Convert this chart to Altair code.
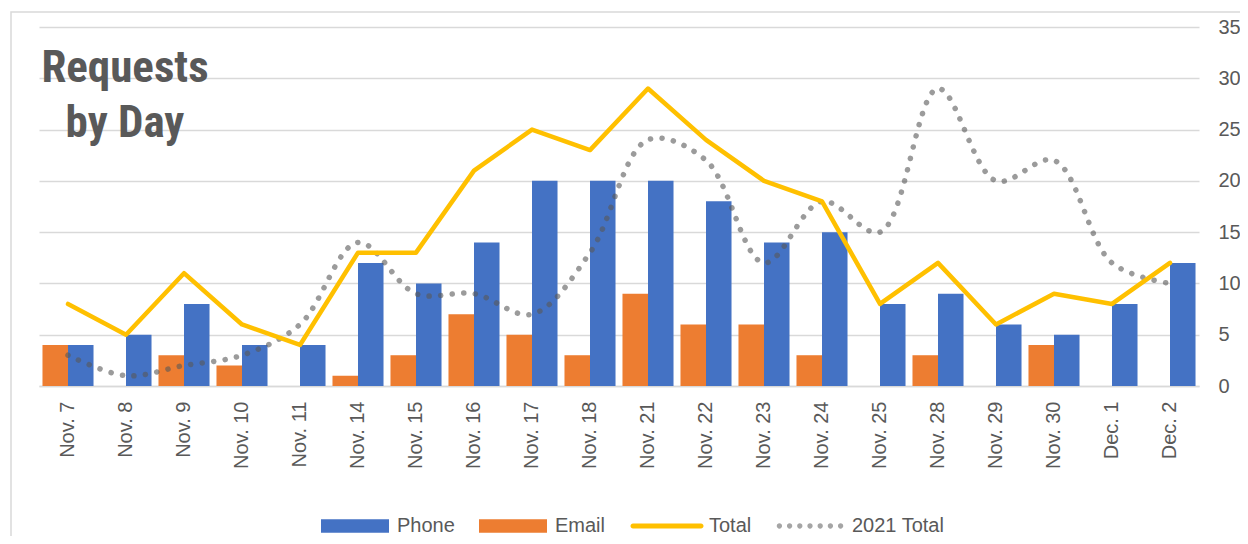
import altair as alt
import pandas as pd

days = ["Nov. 7", "Nov. 8", "Nov. 9", "Nov. 10", "Nov. 11", "Nov. 14", "Nov. 15",
        "Nov. 16", "Nov. 17", "Nov. 18", "Nov. 21", "Nov. 22", "Nov. 23", "Nov. 24",
        "Nov. 25", "Nov. 28", "Nov. 29", "Nov. 30", "Dec. 1", "Dec. 2"]
phone = [4, 5, 8, 4, 4, 12, 10, 14, 20, 20, 20, 18, 14, 15, 8, 9, 6, 5, 8, 12]
email = [4, 0, 3, 2, 0, 1, 3, 7, 5, 3, 9, 6, 6, 3, 0, 3, 0, 4, 0, 0]
total = [8, 5, 11, 6, 4, 13, 13, 21, 25, 23, 29, 24, 20, 18, 8, 12, 6, 9, 8, 12]
total_2021 = [3, 1, 2, 3, 6, 14, 9, 9, 7, 13, 24, 22, 12, 18, 15, 29, 20, 22, 12, 10]

series_names = ["Phone", "Email", "Total", "2021 Total"]
PHONE_C, EMAIL_C, TOTAL_C, PREV_C = "#4472C4", "#ED7D31", "#FFC000", "#595959"
PREV_LEGEND_C = "#A5A5A5"
title_lines = ["Requests", "by Day"]

TXT = "#595959"
GRID = "#D9D9D9"
BODY_FONT = "'Liberation Sans', Arial, sans-serif"
TITLE_FONT = "'Liberation Sans Narrow', 'Roboto Condensed', 'DejaVu Sans Condensed', 'Arial Narrow', sans-serif"

bars_df = pd.DataFrame({
    "day": days * 2,
    "series": ["Phone"] * len(days) + ["Email"] * len(days),
    "value": phone + email,
})
total_df = pd.DataFrame({"day": days, "series": "Total", "value": total})
prev_df = pd.DataFrame({"day": days, "series": "2021 Total", "value": total_2021})
title_df = pd.DataFrame({"t": [title_lines]})
frame_df = pd.DataFrame({"a": [0]})
legend_df = pd.DataFrame({"series": series_names})

# legend symbol shapes (filled only) in Vega's unit box (-1..1 = symbol width)
RECT = "M-1,-0.2H1V0.2H-1Z"
_h = 0.074
LINE = f"M-1,{-_h}H1A{_h},{_h} 0 0,1 1,{_h}H-1A{_h},{_h} 0 0,1 -1,{-_h}Z"
_r = 0.078
DOTS = "".join(
    f"M{c - _r:.3f},0a{_r},{_r} 0 1,0 {2 * _r:.3f},0a{_r},{_r} 0 1,0 {-2 * _r:.3f},0"
    for c in [-0.9, -0.6, -0.3, 0.0, 0.3, 0.6, 0.9]
)

legend = alt.Legend(
    title=None,
    orient="none",
    legendX=282,
    legendY=465,
    direction="horizontal",
    padding=0,
    symbolSize=4624,
    symbolStrokeWidth=0,
    symbolOpacity=1,
    labelOffset=8,
    columnPadding=24,
    labelFont=BODY_FONT,
    labelFontSize=20,
    labelColor=TXT,
)
# legend-only layer: symbols of size 0, so nothing is drawn in the plot itself
legend_layer = alt.Chart(legend_df).mark_point(filled=True, size=0, strokeWidth=0).encode(
    fill=alt.Fill("series:N", scale=alt.Scale(domain=series_names,
                  range=[PHONE_C, EMAIL_C, TOTAL_C, PREV_LEGEND_C]), legend=legend),
    shape=alt.Shape("series:N", scale=alt.Scale(domain=series_names,
                    range=[RECT, RECT, LINE, DOTS]), legend=legend),
)

x_enc = alt.X(
    "day:N", sort=days, title=None,
    scale=alt.Scale(paddingInner=0.12, paddingOuter=0.06),
    axis=alt.Axis(labelAngle=-90, labelFont=BODY_FONT, labelFontSize=20, labelColor=TXT,
                  labelPadding=15, ticks=False, tickSize=0, domainColor=GRID, domainWidth=1.5,
                  grid=False),
)
y_enc = alt.Y(
    "value:Q", title=None,
    scale=alt.Scale(domain=[0, 35], nice=False),
    axis=alt.Axis(orient="right", values=list(range(0, 36, 5)), labelFont=BODY_FONT,
                  labelFontSize=20, labelColor=TXT, labelPadding=19, ticks=False, tickSize=0,
                  domain=False, gridColor=GRID, gridWidth=1.5),
)

frame = alt.Chart(frame_df).mark_rect(filled=False, stroke=GRID, strokeWidth=1.5).encode(
    x=alt.value(-28), x2=alt.value(1400), y=alt.value(-15), y2=alt.value(700)
)

bars = alt.Chart(bars_df).mark_bar().encode(
    x=x_enc,
    xOffset=alt.XOffset("series:N", sort=["Email", "Phone"],
                        scale=alt.Scale(paddingInner=0, paddingOuter=0)),
    y=y_enc,
    color=alt.Color("series:N", scale=alt.Scale(domain=["Email", "Phone"],
                    range=[EMAIL_C, PHONE_C]), legend=None),
)

prev_line = alt.Chart(prev_df).mark_line(
    interpolate="catmull-rom", strokeWidth=5.5, strokeDash=[0.1, 11.5], strokeCap="round",
    opacity=0.6, color=PREV_C,
).encode(x=x_enc, y=y_enc)

total_line = alt.Chart(total_df).mark_line(
    strokeWidth=4.5, strokeCap="round", strokeJoin="round", color=TOTAL_C,
).encode(x=x_enc, y=y_enc)

title_text = alt.Chart(title_df).mark_text(
    align="center", baseline="alphabetic", font=TITLE_FONT, fontSize=45,
    fontWeight="bold", color=TXT, lineHeight=55,
).encode(x=alt.value(86), y=alt.value(55), text="t")

chart = alt.layer(frame, bars, prev_line, total_line, title_text, legend_layer).properties(
    width=1160,
    height=359,
    autosize=alt.AutoSizeParams(type="none"),
    padding={"left": 31, "top": 19, "right": 41, "bottom": 150},
).configure_view(stroke=None)

chart.save("out.html", embed_options={"renderer": "svg", "actions": False})
